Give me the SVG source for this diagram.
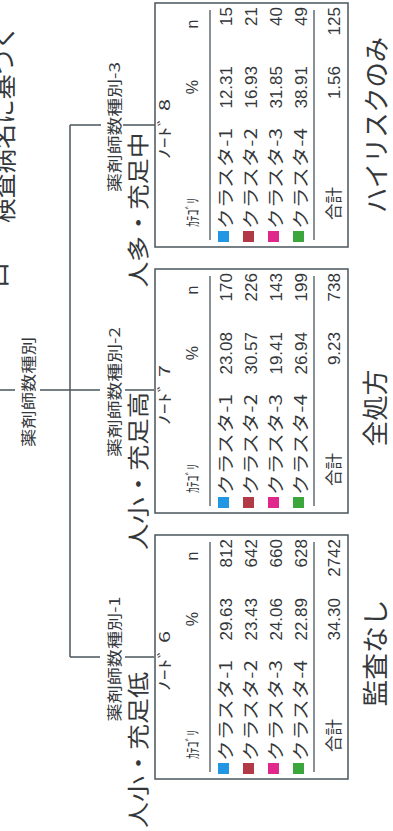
<svg xmlns="http://www.w3.org/2000/svg" width="393" height="831" viewBox="0 0 393 831">
<style>
.bg{fill:#ffffff}
.box{fill:#ffffff;stroke:#4a565c;stroke-width:1.5}
.rule{stroke:#4a565c;stroke-width:1.3;fill:none}
.conn{stroke:#4a565c;stroke-width:1.5;fill:none}
.jp{font-family:"Noto Sans CJK JP","Noto Sans",sans-serif;fill:#35383b}
.num{font-family:"Liberation Sans",Arial,sans-serif;font-size:17px;fill:#35383b;text-anchor:end}
.t{font-size:15px}
.hd{font-size:15px}
.hs{font-family:"Liberation Sans",Arial,sans-serif;font-size:16px;fill:#35383b;text-anchor:middle}
.cat{font-size:17px}
.cl{font-size:15px;text-anchor:middle}
.big{font-size:22px;text-anchor:middle}
.note{font-size:26px;text-anchor:middle}
.c1{fill:#2196e3}
.c2{fill:#b23a46}
.c3{fill:#e0288c}
.c4{fill:#3aa63c}
</style>
<defs>
<g id="frame">
<rect class="box" x="0" y="0" width="244" height="193"/>
<line class="rule" x1="7" y1="55" x2="237" y2="55"/>
<line class="rule" x1="7" y1="159" x2="237" y2="159"/>
<text class="jp hd" x="20" y="43" textLength="29" lengthAdjust="spacingAndGlyphs">ｶﾃｺﾞﾘ</text>
<text class="hs" x="160" y="43">%</text>
<text class="hs" x="223" y="43">n</text>
<rect class="c1" x="5" y="63" width="11" height="11"/>
<rect class="c2" x="5" y="88" width="11" height="11"/>
<rect class="c3" x="5" y="113" width="11" height="11"/>
<rect class="c4" x="5" y="138" width="11" height="11"/>
<text class="jp cat" x="18" y="77" textLength="101" lengthAdjust="spacingAndGlyphs">クラスタ-1</text>
<text class="jp cat" x="18" y="102" textLength="101" lengthAdjust="spacingAndGlyphs">クラスタ-2</text>
<text class="jp cat" x="18" y="127" textLength="101" lengthAdjust="spacingAndGlyphs">クラスタ-3</text>
<text class="jp cat" x="18" y="152" textLength="101" lengthAdjust="spacingAndGlyphs">クラスタ-4</text>
<text class="jp cat" x="27" y="185" textLength="33" lengthAdjust="spacingAndGlyphs">合計</text>
</g>
</defs>
<rect class="bg" x="0" y="0" width="393" height="831"/>

<g id="connectors">
<path class="conn" d="M70,125 V657"/>
<path class="conn" d="M70,125 H101 M123,125 H155"/>
<path class="conn" d="M0,390 H15 M40,390 H100 M125,390 H154"/>
<path class="conn" d="M70,657 H100 M125,657 H154"/>
<g transform="translate(0,831) rotate(-90)">
<text class="jp cl" x="439" y="34" textLength="110" lengthAdjust="spacingAndGlyphs">薬剤師数種別</text>
<text class="jp cl" x="439" y="120" textLength="130" lengthAdjust="spacingAndGlyphs">薬剤師数種別-2</text>
<text class="jp cl" x="704" y="120" textLength="130" lengthAdjust="spacingAndGlyphs">薬剤師数種別-3</text>
<text class="jp cl" x="172" y="120" textLength="125" lengthAdjust="spacingAndGlyphs">薬剤師数種別-1</text>
</g>
</g>

<g id="node8" transform="translate(155,247) rotate(-90)">
<use href="#frame"/>
<text class="jp t" x="118" y="15" text-anchor="middle" textLength="60" lengthAdjust="spacingAndGlyphs">ﾉｰﾄﾞ 8</text>
<text class="num" x="181" y="77">12.31</text><text class="num" x="240" y="77">15</text>
<text class="num" x="181" y="102">16.93</text><text class="num" x="240" y="102">21</text>
<text class="num" x="181" y="127">31.85</text><text class="num" x="240" y="127">40</text>
<text class="num" x="181" y="152">38.91</text><text class="num" x="240" y="152">49</text>
<text class="num" x="181" y="185">1.56</text><text class="num" x="240" y="185">125</text>
</g>

<g id="node7" transform="translate(155,513) rotate(-90)">
<use href="#frame"/>
<text class="jp t" x="118" y="15" text-anchor="middle" textLength="60" lengthAdjust="spacingAndGlyphs">ﾉｰﾄﾞ 7</text>
<text class="num" x="181" y="77">23.08</text><text class="num" x="240" y="77">170</text>
<text class="num" x="181" y="102">30.57</text><text class="num" x="240" y="102">226</text>
<text class="num" x="181" y="127">19.41</text><text class="num" x="240" y="127">143</text>
<text class="num" x="181" y="152">26.94</text><text class="num" x="240" y="152">199</text>
<text class="num" x="181" y="185">9.23</text><text class="num" x="240" y="185">738</text>
</g>

<g id="node6" transform="translate(155,779) rotate(-90)">
<use href="#frame"/>
<text class="jp t" x="118" y="15" text-anchor="middle" textLength="60" lengthAdjust="spacingAndGlyphs">ﾉｰﾄﾞ 6</text>
<text class="num" x="181" y="77">29.63</text><text class="num" x="240" y="77">812</text>
<text class="num" x="181" y="102">23.43</text><text class="num" x="240" y="102">642</text>
<text class="num" x="181" y="127">24.06</text><text class="num" x="240" y="127">660</text>
<text class="num" x="181" y="152">22.89</text><text class="num" x="240" y="152">628</text>
<text class="num" x="181" y="185">34.30</text><text class="num" x="240" y="185">2742</text>
</g>

<g id="labels" transform="translate(0,831) rotate(-90)">
<text class="jp big" x="621" y="146" textLength="155" lengthAdjust="spacingAndGlyphs">人多・充足中</text>
<text class="jp big" x="360" y="146" textLength="158" lengthAdjust="spacingAndGlyphs">人小・充足高</text>
<text class="jp big" x="81" y="146" textLength="156" lengthAdjust="spacingAndGlyphs">人小・充足低</text>
<text class="jp note" x="706" y="386" textLength="176" lengthAdjust="spacingAndGlyphs">ハイリスクのみ</text>
<text class="jp note" x="423" y="385" textLength="77" lengthAdjust="spacingAndGlyphs">全処方</text>
<text class="jp note" x="178" y="385" textLength="107" lengthAdjust="spacingAndGlyphs">監査なし</text>
<text class="jp note" x="707" y="13" textLength="198" lengthAdjust="spacingAndGlyphs">検査病名に基づく</text>
<text class="jp note" x="556" y="7">口</text>
</g>
</svg>
